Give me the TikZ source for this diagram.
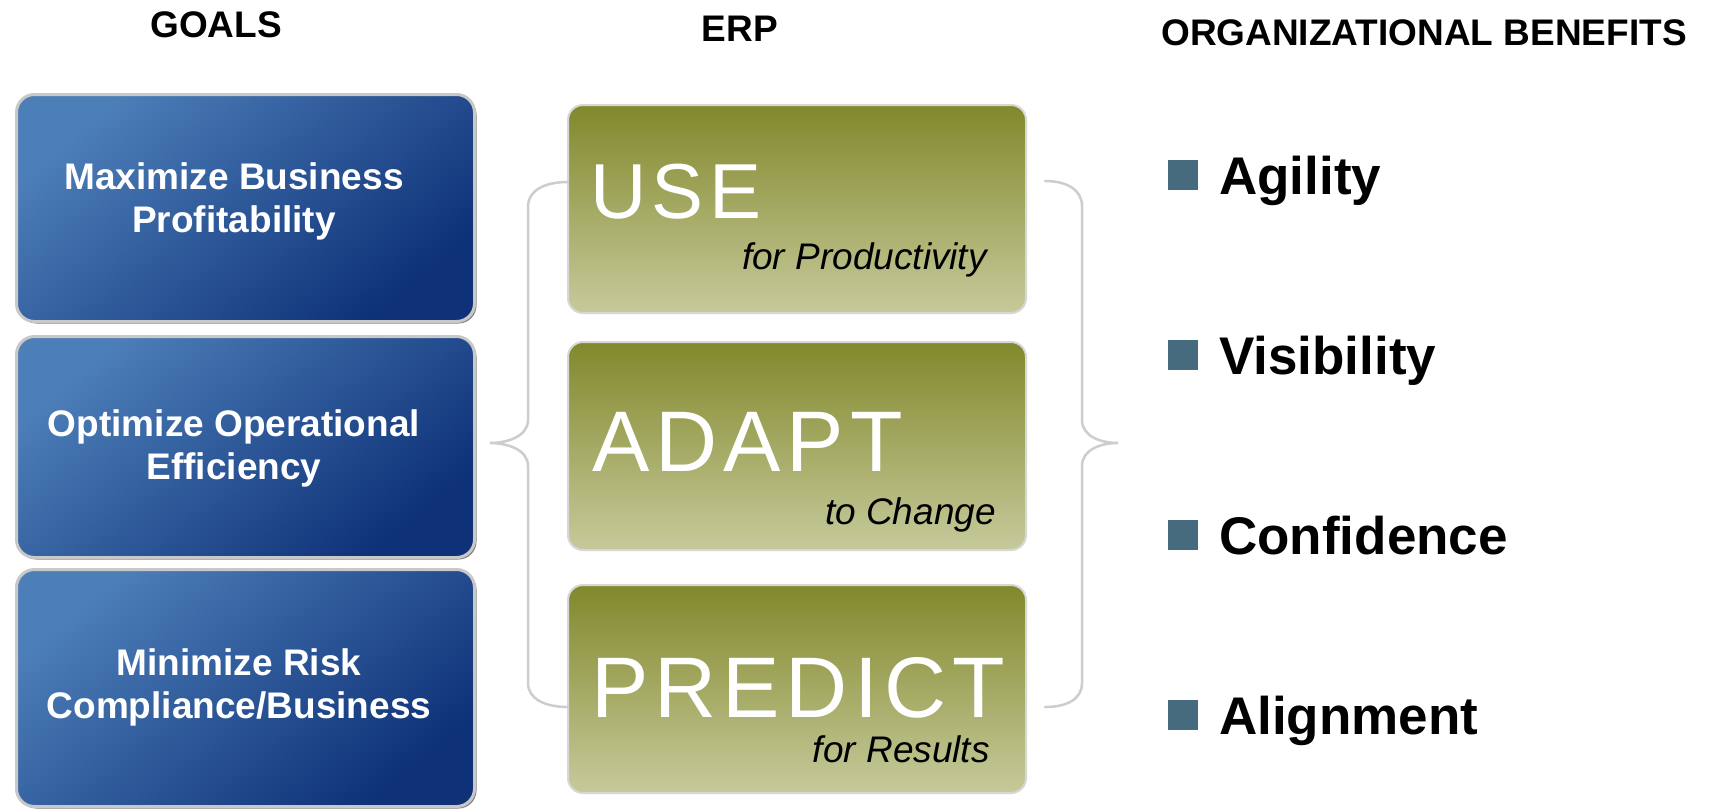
\documentclass[tikz,border=0pt]{standalone}
\usepackage{fontspec}
\setmainfont{Liberation Sans}
\newfontfamily\thinfont[LetterSpace=7]{Liberation Sans}
\definecolor{blueL}{RGB}{76,126,184}
\definecolor{blueD}{RGB}{14,49,120}
\definecolor{oliveT}{RGB}{130,136,44}
\definecolor{oliveB}{RGB}{198,202,155}
\definecolor{bulletc}{RGB}{70,106,126}
\definecolor{bracec}{RGB}{205,205,205}
\definecolor{bluebord}{RGB}{200,200,200}
\definecolor{greenbord}{RGB}{215,215,215}
\definecolor{shadowc}{RGB}{130,130,130}
\tikzset{
  heading/.style={font=\bfseries\fontsize{37}{40}\selectfont, text=black, inner sep=0pt},
  goalshadow/.style={rounded corners=18pt, fill=shadowc, minimum width=458pt, minimum height=227pt, inner sep=0pt, outer sep=0pt},
  goalbox/.style={rounded corners=18pt, draw=bluebord, line width=3pt, top color=blueL, bottom color=blueD, shading angle=40, minimum width=458pt, inner sep=0pt, outer sep=0pt},
  goaltext/.style={font=\bfseries\fontsize{37}{43}\selectfont, text=white, align=center, inner sep=0pt},
  erpbox/.style={rounded corners=15pt, draw=greenbord, line width=2pt, top color=oliveT, bottom color=oliveB, minimum width=458pt, minimum height=208pt, inner sep=0pt, outer sep=0pt},
  bigword/.style={font=\thinfont\fontsize{86}{90}\selectfont, text=white, anchor=base west, inner sep=0pt},
  subword/.style={font=\itshape\fontsize{37}{40}\selectfont, text=black, anchor=base east, inner sep=0pt},
  bulletbox/.style={fill=bulletc, minimum width=30pt, minimum height=30pt, inner sep=0pt},
  benefit/.style={font=\bfseries\fontsize{53}{56}\selectfont, text=black, anchor=base west, inner sep=0pt},
  bracket/.style={draw=bracec, line width=2.5pt, line cap=round}
}
\begin{document}
\begin{tikzpicture}[x=1pt,y=-1pt]
\useasboundingbox[fill=white] (0,0) rectangle (1710,809);

% headings
\node[heading] (hgoals) at (216,25) {GOALS};
\node[heading] (herp) at (740,29) {ERP};
\node[heading] (hben) at (1424,33) {ORGANIZATIONAL BENEFITS};

% goal boxes
\node[goalshadow, minimum height=227pt] (g1s) at (247.5,210) {};
\node[goalbox, minimum height=227pt] (g1) at (245.5,208) {};
\node[goalshadow, minimum height=221pt] (g2s) at (247.5,449) {};
\node[goalbox, minimum height=221pt] (g2) at (245.5,447) {};
\node[goalshadow, minimum height=237pt] (g3s) at (247.5,690) {};
\node[goalbox, minimum height=237pt] (g3) at (245.5,688) {};
\node[goaltext] (g1t) at (234,201) {Maximize Business\\Profitability};
\node[goaltext] (g2t) at (234,448) {Optimize Operational\\Efficiency};
\node[goaltext] (g3t) at (239,687) {Minimize Risk\\Compliance/Business};

% ERP boxes
\node[erpbox] (e1) at (797,209) {};
\node[erpbox] (e2) at (797,446) {};
\node[erpbox] (e3) at (797,689) {};
\node[bigword, font=\thinfont\fontsize{78}{82}\selectfont] (e1w) at (590,218) {USE};
\node[bigword] (e2w) at (592,471) {ADAPT};
\node[bigword] (e3w) at (591,717) {PREDICT};
\node[subword] (e1s) at (987,269) {for Productivity};
\node[subword] (e2s) at (996,524) {to Change};
\node[subword] (e3s) at (990,762) {for Results};

% braces
\coordinate (lt) at (e1.west |- 0,182);
\coordinate (lb) at (e3.west |- 0,707);
\coordinate (ltip) at (490,443);
\coordinate (rt) at (1045,181);
\coordinate (rb) at (1045,707);
\coordinate (rtip) at (1118,443);
\draw[bracket] (lt) .. controls (545,182) and (528,190) .. (528,207)
  -- (528,420) .. controls (528,437) and (506,443) .. (ltip)
  .. controls (506,443) and (528,449) .. (528,466)
  -- (528,683) .. controls (528,699) and (545,707) .. (lb);
\draw[bracket] (rt) .. controls (1067,181) and (1082,190) .. (1082,206)
  -- (1082,420) .. controls (1082,437) and (1102,443) .. (rtip)
  .. controls (1102,443) and (1082,449) .. (1082,466)
  -- (1082,683) .. controls (1082,699) and (1067,707) .. (rb);

% benefits
\node[bulletbox] (b1) at (1183,175) {};
\node[benefit] (b1t) at (1219,194) {Agility};
\node[bulletbox] (b2) at (1183,355) {};
\node[benefit] (b2t) at (1219,374) {Visibility};
\node[bulletbox] (b3) at (1183,535) {};
\node[benefit] (b3t) at (1219,554) {Confidence};
\node[bulletbox] (b4) at (1183,715) {};
\node[benefit] (b4t) at (1219,734) {Alignment};
\end{tikzpicture}
\end{document}
